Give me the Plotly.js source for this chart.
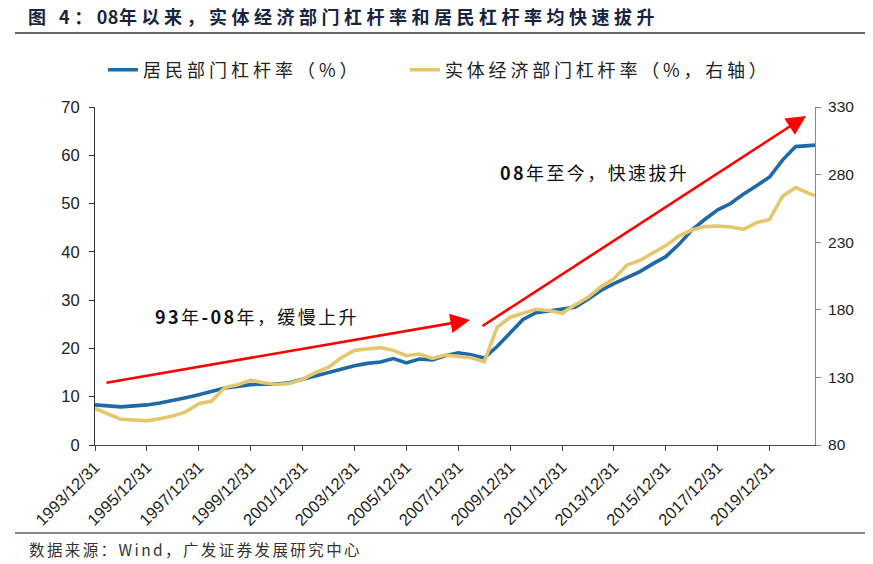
<!DOCTYPE html>
<html>
<head>
<meta charset="utf-8">
<script src="https://cdn.plot.ly/plotly-3.0.1.min.js"></script>
<style>
html,body{margin:0;padding:0;background:#fff;}
#chart{width:873px;height:564px;}
.gtitle{letter-spacing:4.5px;}
.annotation-text{letter-spacing:2.4px;}
</style>
</head>
<body>
<div id="chart"></div>
<script>
const dates = [
 '1993-12-31','1994-06-30','1994-12-31','1995-06-30','1995-12-31','1996-06-30','1996-12-31','1997-06-30','1997-12-31',
 '1998-06-30','1998-12-31','1999-06-30','1999-12-31','2000-06-30','2000-12-31','2001-06-30','2001-12-31',
 '2002-06-30','2002-12-31','2003-06-30','2003-12-31','2004-06-30','2004-12-31','2005-06-30','2005-12-31',
 '2006-06-30','2006-12-31','2007-06-30','2007-12-31','2008-06-30','2008-12-31','2009-06-30','2009-12-31',
 '2010-06-30','2010-12-31','2011-06-30','2011-12-31','2012-06-30','2012-12-31','2013-06-30','2013-12-31',
 '2014-06-30','2014-12-31','2015-06-30','2015-12-31','2016-06-30','2016-12-31','2017-06-30','2017-12-31',
 '2018-06-30','2018-12-31','2019-06-30','2019-12-31','2020-06-30','2020-12-31','2021-06-30','2021-09-30'
];
const householdLeverage = [
 8.3,8.1,7.9,8.1,8.3,8.7,9.2,9.8,10.4,
 11.1,11.8,12.1,12.5,12.6,12.6,12.9,13.6,
 14.4,15.1,15.7,16.4,16.9,17.2,17.9,17.0,
 17.8,17.6,18.5,19.1,18.7,18.0,20.4,23.1,
 26.0,27.4,27.8,28.2,28.5,30.2,32.0,33.4,
 34.7,35.9,37.5,39.0,41.5,44.5,46.7,48.7,
 50.0,52.0,53.7,55.5,59.0,61.8,62.0,62.1
];
const realEconomyLeverage = [
 107,103,99,98.5,98,99.5,101.5,104.5,110.5,
 112.5,122.5,124.5,128,126,124.8,125.5,128.5,
 133.5,137.5,144.5,150,151,152,150,146,
 147.3,144,146.5,145.5,144.5,141.5,167,174.5,
 177.5,180.4,179.5,177.4,183.6,189.2,197,203,
 213,216.5,222,227.5,234.5,239,241.5,242,
 241.3,239.5,244.5,246.8,264,270.5,266.2,264.4
];
const tickDates = ['1993-12-31','1995-12-31','1997-12-31','1999-12-31','2001-12-31','2003-12-31','2005-12-31',
 '2007-12-31','2009-12-31','2011-12-31','2013-12-31','2015-12-31','2017-12-31','2019-12-31'];
const tickLabels = tickDates.map(d => d.replace(/-/g,'/'));
const seriesNames = ['居民部门杠杆率（%）','实体经济部门杠杆率（%，右轴）'];

const CJK = '"Noto Sans CJK SC", "Liberation Sans", sans-serif';
const LAT = '"Liberation Sans", Arial, sans-serif';
const spaced = (s, ls) => '<span style="letter-spacing:' + ls + 'px">' + s + '</span>';

const traces = [
 {x: dates, y: householdLeverage, name: spaced(seriesNames[0], 4), type:'scatter', mode:'lines',
  line:{color:'#1f69a6', width:3.6}, yaxis:'y', legend:'legend'},
 {x: dates, y: realEconomyLeverage, name: spaced(seriesNames[1], 3.8), type:'scatter', mode:'lines',
  line:{color:'#e4c76c', width:3.6}, yaxis:'y2', legend:'legend2'}
];

const W = 720, H = 338, L = 95, T = 107;
const px = v => (v - L) / W;
const py = v => (T + H - v) / H;

const legendStyle = (xpix) => ({orientation:'h', x: px(xpix), xanchor:'left', y: py(70), yanchor:'middle',
  font:{family:CJK, size:18, color:'#222'}, bgcolor:'rgba(0,0,0,0)'});

const layout = {
 width: 873, height: 564,
 margin: {l: 95, r: 58, t: 107, b: 119},
 paper_bgcolor:'#fff', plot_bgcolor:'#fff',
 title: {text:'<b>图 4：<span style="letter-spacing:0.5px">08</span>年以来，实体经济部门杠杆率和居民杠杆率均快速拔升</b>',
  font:{family:CJK, size:18, color:'#172540'},
  xref:'container', yref:'container', x: 28/873, xanchor:'left', y: 1 - 18/564, yanchor:'middle'},
 showlegend: true,
 legend: legendStyle(103),
 legend2: legendStyle(405),
 xaxis: {type:'date', range:['1993-12-31','2021-09-30'], tickvals: tickDates, ticktext: tickLabels,
  tickangle:-45, ticks:'outside', ticklen:5, tickcolor:'#444', showline:true, linecolor:'#444', linewidth:1,
  showgrid:false, zeroline:false, tickfont:{family:LAT, size:16.5, color:'#222'}},
 yaxis: {range:[0,70], dtick:10, ticks:'outside', ticklen:5, tickcolor:'#333', showline:true, linecolor:'#333',
  showgrid:false, zeroline:false, ticklabelstandoff:6, tickfont:{family:LAT, size:16.5, color:'#222'}},
 yaxis2: {range:[80,330], tickvals:[80,130,180,230,280,330], overlaying:'y', side:'right', ticks:'outside', ticklen:5,
  tickcolor:'#888', showline:true, linecolor:'#888', showgrid:false, zeroline:false, ticklabelstandoff:4,
  tickfont:{family:LAT, size:15.5, color:'#222'}},
 shapes: [
  {type:'line', xref:'paper', yref:'paper', x0:px(15), x1:px(865), y0:py(33), y1:py(33), line:{color:'#666', width:2}},
  {type:'line', xref:'paper', yref:'paper', x0:px(15), x1:px(865), y0:py(533), y1:py(533), line:{color:'#888', width:2}}
 ],
 annotations: [
  {xref:'paper', yref:'paper', x:px(470), y:py(320), ax:-365, ay:63, text:'', showarrow:true,
   arrowhead:2, arrowsize:1.5, arrowwidth:2.6, arrowcolor:'#ff0000'},
  {xref:'paper', yref:'paper', x:px(806), y:py(116), ax:-325, ay:211, text:'', showarrow:true,
   arrowhead:2, arrowsize:1.5, arrowwidth:2.6, arrowcolor:'#ff0000'},
  {xref:'paper', yref:'paper', x:px(257), y:py(316), xanchor:'center', yanchor:'middle', showarrow:false,
   text:'<b>93</b>年<b>-08</b>年，缓慢上升', font:{family:CJK, size:18, color:'#111'}},
  {xref:'paper', yref:'paper', x:px(594), y:py(172), xanchor:'center', yanchor:'middle', showarrow:false,
   text:'<b>08</b>年至今，快速拔升', font:{family:CJK, size:18, color:'#111'}},
  {xref:'paper', yref:'paper', x:px(27), y:py(549), xanchor:'left', yanchor:'middle', align:'left', showarrow:false,
   text:'数据来源：Wind，广发证券发展研究中心', font:{family:CJK, size:15.5, color:'#333'}}
 ]
};

Plotly.newPlot('chart', traces, layout, {displayModeBar:false, staticPlot:true});
</script>
</body>
</html>
